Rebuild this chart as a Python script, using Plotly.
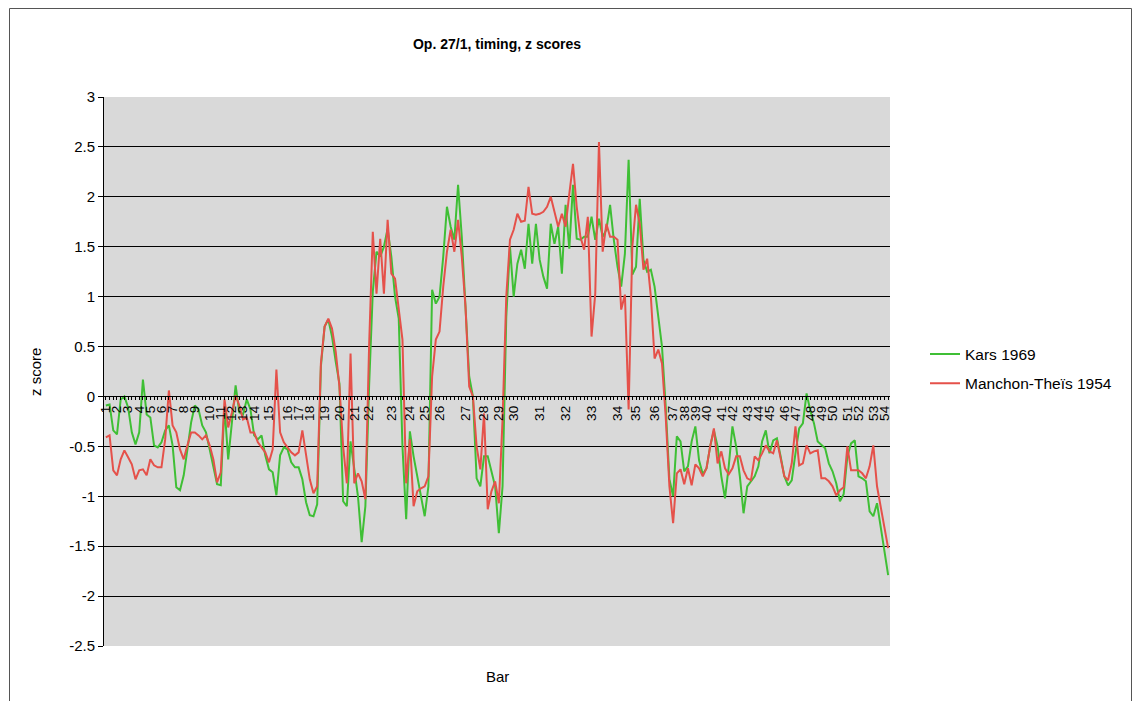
import numpy as np
import plotly.graph_objects as go

# ---- data -------------------------------------------------------------
bar_labels = [str(b) for b in range(1, 55)]

# number of timing points recorded in each bar (bars 1..54)
points_per_bar = [3, 3, 3, 3, 3, 3, 3, 3, 4, 3,
                  3, 3, 3, 4, 5, 3, 3, 4, 4, 4,
                  4, 6, 5, 4, 4, 7, 5, 4, 4, 7,
                  7, 7, 7, 5, 5, 5, 3, 3, 3, 4,
                  3, 4, 3, 3, 4, 3, 4, 3, 3, 4,
                  3, 4, 3, 2]

kars_1969 = [
    -0.09, -0.08, -0.34, -0.38, -0.03, 0.00, -0.11, -0.36, -0.48, -0.36,
    0.17, -0.18, -0.21, -0.49, -0.51, -0.46, -0.34, -0.29, -0.49, -0.91,
    -0.94, -0.79, -0.53, -0.26, -0.09, -0.13, -0.29, -0.36, -0.53, -0.69,
    -0.88, -0.89, -0.10, -0.63, -0.23, 0.11, -0.16, -0.18, -0.03, -0.13,
    -0.39, -0.43, -0.39, -0.59, -0.73, -0.76, -0.99, -0.59, -0.51, -0.53,
    -0.66, -0.71, -0.71, -0.83, -1.06, -1.19, -1.20, -1.08, 0.30, 0.70,
    0.77, 0.60, 0.35, 0.13, -1.05, -1.10, -0.45, -0.73, -1.00, -1.46,
    -1.10, 0.10, 1.05, 1.45, 1.40, 1.50, 1.68, 1.40, 1.00, 0.78,
    -0.50, -1.23, -0.35, -0.60, -0.80, -1.00, -1.20, -0.90, 1.07, 0.93,
    1.00, 1.40, 1.90, 1.70, 1.57, 2.12, 1.60, 0.90, 0.20, 0.00,
    -0.82, -0.90, -0.60, -0.60, -0.75, -0.90, -1.37, -0.90, 0.80, 1.50,
    1.00, 1.33, 1.47, 1.28, 1.73, 1.33, 1.73, 1.37, 1.20, 1.08,
    1.73, 1.53, 1.70, 1.23, 1.92, 1.48, 2.12, 1.58, 1.57, 1.60,
    1.60, 1.80, 1.57, 1.78, 1.60, 1.67, 1.92, 1.57, 1.30, 1.10,
    1.43, 2.37, 1.22, 1.30, 1.98, 1.37, 1.25, 1.27, 1.10, 0.80,
    0.50, -0.10, -0.83, -1.00, -0.40, -0.45, -0.75, -0.70, -0.45, -0.30,
    -0.64, -0.78, -0.72, -0.50, -0.34, -0.50, -0.80, -1.02, -0.70, -0.30,
    -0.50, -0.80, -1.17, -0.90, -0.85, -0.80, -0.70, -0.45, -0.34, -0.57,
    -0.44, -0.42, -0.60, -0.80, -0.89, -0.84, -0.57, -0.32, -0.27, 0.03,
    -0.14, -0.27, -0.45, -0.49, -0.52, -0.67, -0.75, -0.87, -1.05, -0.98,
    -0.60, -0.47, -0.44, -0.80, -0.82, -0.85, -1.15, -1.20, -1.07, -1.31,
    -1.54, -1.79,
]

manchon_theis_1954 = [
    -0.41, -0.39, -0.74, -0.79, -0.63, -0.54, -0.61, -0.68, -0.83, -0.74,
    -0.73, -0.79, -0.63, -0.69, -0.71, -0.71, -0.43, 0.06, -0.29, -0.36,
    -0.53, -0.63, -0.49, -0.36, -0.36, -0.39, -0.43, -0.39, -0.49, -0.63,
    -0.86, -0.76, -0.03, -0.31, -0.16, 0.01, -0.09, -0.23, -0.21, -0.36,
    -0.36, -0.46, -0.51, -0.56, -0.66, -0.53, 0.27, -0.36, -0.46, -0.51,
    -0.56, -0.59, -0.56, -0.34, -0.59, -0.83, -0.97, -0.90, 0.33, 0.70,
    0.78, 0.68, 0.45, 0.10, -0.50, -0.87, 0.43, -0.87, -0.77, -0.85,
    -1.03, 0.50, 1.65, 1.03, 1.58, 1.03, 1.77, 1.23, 1.18, 0.90,
    0.57, -0.87, -0.43, -1.10, -0.95, -0.92, -0.90, -0.80, 0.20, 0.57,
    0.65, 1.10, 1.45, 1.67, 1.45, 1.77, 1.40, 0.90, 0.10, 0.00,
    -0.50, -0.73, -0.17, -1.13, -0.95, -0.85, -1.07, -0.23, 1.00, 1.57,
    1.67, 1.83, 1.75, 1.76, 2.10, 1.83, 1.82, 1.83, 1.85, 1.90,
    2.00, 1.85, 1.70, 1.83, 1.70, 2.03, 2.33, 1.90, 1.60, 1.47,
    1.80, 0.60, 1.03, 2.55, 1.45, 1.73, 1.60, 1.60, 1.57, 0.87,
    1.02, -0.13, 1.50, 1.92, 1.73, 1.27, 1.38, 1.00, 0.38, 0.47,
    0.33, -0.20, -0.90, -1.27, -0.77, -0.73, -0.88, -0.72, -0.89, -0.68,
    -0.72, -0.80, -0.72, -0.50, -0.32, -0.67, -0.55, -0.72, -0.78, -0.72,
    -0.60, -0.60, -0.74, -0.82, -0.84, -0.60, -0.64, -0.57, -0.49, -0.55,
    -0.57, -0.44, -0.63, -0.80, -0.84, -0.67, -0.30, -0.69, -0.67, -0.49,
    -0.57, -0.55, -0.54, -0.82, -0.82, -0.85, -0.90, -0.99, -0.94, -0.91,
    -0.50, -0.74, -0.74, -0.74, -0.77, -0.82, -0.70, -0.49, -0.90, -1.10,
    -1.31, -1.52,
]

y_tick_values = [3, 2.5, 2, 1.5, 1, 0.5, 0, -0.5, -1, -1.5, -2, -2.5]
y_tick_labels = ["3", "2.5", "2", "1.5", "1", "0.5", "0", "-0.5", "-1", "-1.5", "-2", "-2.5"]

# ---- derived ----------------------------------------------------------
n_points = int(np.sum(points_per_bar))
assert n_points == len(kars_1969) == len(manchon_theis_1954)
x_idx = np.arange(n_points)
bar_starts = np.concatenate([[0], np.cumsum(points_per_bar)[:-1]])

FONT = "Liberation Sans, Arial, Helvetica, sans-serif"
GREEN = "#3fbf35"
RED = "#e5514a"

fig = go.Figure()
fig.add_trace(go.Scatter(x=x_idx, y=kars_1969, mode="lines", name="Kars 1969",
                         line=dict(color=GREEN, width=2), legendgroup="a"))
fig.add_trace(go.Scatter(x=x_idx, y=manchon_theis_1954, mode="lines",
                         name="Manchon-Theïs 1954",
                         line=dict(color=RED, width=2), legendgroup="b"))

# plot area in pixels: x 104..890, y 97..646
L, R, T, B = 104, 890, 97, 646
W, H = 1138, 701
pw, ph = R - L, B - T


def px(xp):
    return (xp - L) / pw


def py(yp):
    return (B - yp) / ph


y0_pos = (0 - (-2.5)) / (3 - (-2.5))

fig.update_layout(
    width=W, height=H, autosize=False,
    margin=dict(l=L, r=W - R, t=T, b=H - B, pad=0),
    paper_bgcolor="white",
    plot_bgcolor="#d9d9d9",
    font=dict(family=FONT, color="black", size=13),
    title=dict(text="<b>Op. 27/1, timing, z scores</b>", x=(L + R) / 2 / W,
               xanchor="center", y=1 - 44 / H, yanchor="middle",
               font=dict(size=14, family=FONT, color="black")),
    xaxis=dict(
        range=[-0.5, n_points - 0.5],
        anchor="free", position=y0_pos,
        showline=True, linecolor="black", linewidth=1,
        showgrid=False, zeroline=False,
        tickmode="array", tickvals=bar_starts, ticktext=bar_labels,
        ticks="outside", ticklen=3, tickcolor="black", tickwidth=1,
        tickangle=-90, tickfont=dict(size=13.5, family=FONT, color="black"),
        minor=dict(dtick=1, tick0=0, ticks="outside", ticklen=3,
                   tickcolor="black", tickwidth=1, showgrid=False),
    ),
    yaxis=dict(
        range=[-2.5, 3],
        tickmode="array", tickvals=y_tick_values, ticktext=y_tick_labels,
        showgrid=True, gridcolor="black", gridwidth=1,
        showline=True, linecolor="black", linewidth=1,
        zeroline=False,
        ticks="outside", ticklen=5, tickcolor="black",
        tickfont=dict(size=15, family=FONT, color="black"),
    ),
    legend=dict(
        x=px(925), y=py(369), xanchor="left", yanchor="middle",
        font=dict(size=15.5, family=FONT, color="black"),
        bgcolor="rgba(0,0,0,0)", itemwidth=30,
        traceorder="grouped", tracegroupgap=6,
    ),
    showlegend=True,
    annotations=[
        dict(text="Bar", xref="paper", yref="paper", x=px((L + R) / 2), y=py(676),
             showarrow=False, font=dict(size=15, family=FONT, color="black"),
             xanchor="center", yanchor="middle"),
        dict(text="z score", xref="paper", yref="paper", x=px(35), y=py(372),
             showarrow=False, textangle=-90,
             font=dict(size=15, family=FONT, color="black"),
             xanchor="center", yanchor="middle"),
    ],
    shapes=[
        dict(type="rect", xref="paper", yref="paper",
             x0=px(9.5), x1=px(1131.5), y0=py(720), y1=py(8.5),
             line=dict(color="#555555", width=1), fillcolor="rgba(0,0,0,0)",
             layer="below"),
    ],
)

fig.write_html("out.html", config={"displayModeBar": False},
               post_script="document.body.style.margin='0';")
